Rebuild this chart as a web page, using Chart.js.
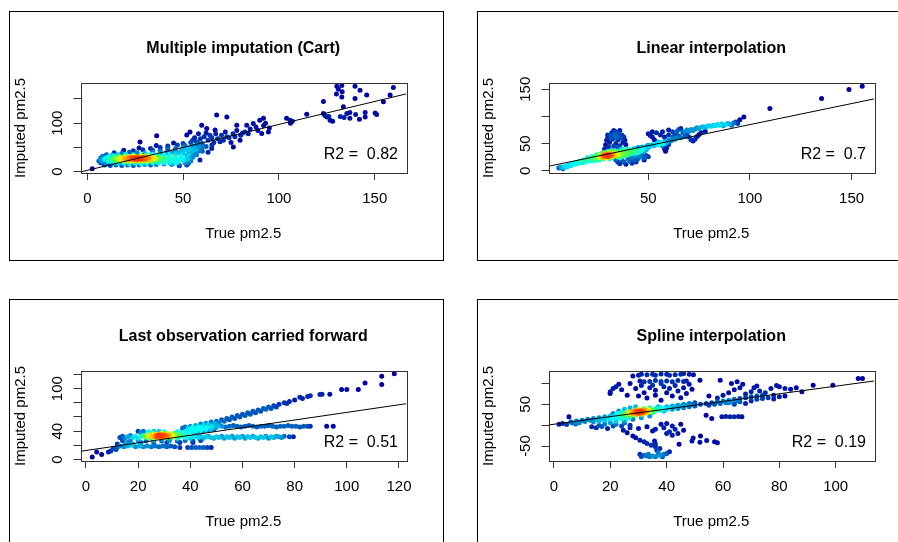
<!DOCTYPE html>
<html>
<head>
<meta charset="utf-8">
<script src="https://cdn.jsdelivr.net/npm/chart.js@4.4.1/dist/chart.umd.min.js"></script>
<style>
  body { margin: 0; background: #fff; }
  #wrap { position: relative; width: 898px; height: 542px; overflow: hidden; }
  #wrap canvas { position: absolute; left: 0; top: 0; }
  .frame { position: absolute; border: 1px solid #000; }
</style>
</head>
<body>
<div id="wrap">
  <div class="frame" style="left:9px;top:11px;width:433px;height:248px"></div>
  <div class="frame" style="left:477px;top:11px;width:440px;height:248px"></div>
  <div class="frame" style="left:9px;top:299px;width:433px;height:260px"></div>
  <div class="frame" style="left:477px;top:299px;width:440px;height:260px"></div>
  <canvas id="c0" width="898" height="542"></canvas>
  <canvas id="c1" width="898" height="542"></canvas>
  <canvas id="c2" width="898" height="542"></canvas>
  <canvas id="c3" width="898" height="542"></canvas>
</div>
<script>
// ---- data: [true pm2.5, imputed pm2.5] ----
const cartPoints = [
  [9,14],[12,13],[15,14],[18,13],[21,14],[24,13],[27,14],[30,15],[33,14],[36,15],[40,16],[44,15],[48,13],
  [7,18],[10,17],[13,18],[16,17],[19,18],[22,17],[25,18],[28,17],[31,18],[34,19],[37,18],[40,19],[43,18],[47,19],[51,18],
  [6,22],[8,21],[11,22],[13,23],[15,21],[17,22],[19,23],[21,21],[23,22],[25,23],[27,21],[29,22],[31,23],[33,22],[35,21],[38,22],[41,23],[44,22],[47,21],[50,23],[53,22],
  [7,25],[9,26],[12,25],[14,26],[16,25],[18,26],[20,25],[22,26],[24,25],[26,26],[28,25],[30,26],[32,25],[34,26],[36,25],[39,26],[42,25],[45,26],[48,25],[52,26],
  [7,29],[10,28],[12,29],[15,28],[17,29],[19,28],[21,29],[23,28],[25,29],[27,28],[29,29],[31,28],[33,29],[35,28],[37,29],[40,28],[43,29],[46,28],[49,29],[53,28],
  [8,32],[11,31],[14,32],[17,31],[20,32],[22,31],[24,32],[26,31],[28,32],[30,31],[32,32],[34,31],[37,32],[40,31],[43,32],[46,31],[49,32],[52,31],[55,32],
  [10,35],[13,34],[16,35],[20,36],[24,35],[28,34],[31,35],[34,36],[37,35],[40,34],[43,35],[46,36],[49,35],[52,34],[56,36],
  [14,39],[18,38],[22,40],[26,39],[30,38],[34,40],[38,39],[41,38],[44,40],[47,39],[50,38],[53,40],[57,39],
  [19,44],[24,43],[29,45],[34,44],[38,43],[42,45],[46,44],[49,43],[52,45],[55,44],[59,43],
  [27,49],[33,48],[38,50],[42,49],[46,48],[50,50],[53,49],[56,48],[60,50],
  [36,54],[42,53],[47,55],[51,54],[55,53],[59,55],[45,59],[50,58],[54,60],[58,59],
  [18,24],[20,27],[22,24],[24,27],[26,24],[28,27],[30,24],[32,27],[19,30],[23,30],[27,30],[31,30],
  [21,23.5],[25,26.5],[29,28.5],[33,25.5],[20,25.5],[24,29.5],[28,23.5],[32,29.5],[22,28],[26,28],[30,28],[34,28],
  [2.6,6],[44.9,17],[51.9,14],[52.7,17],[48,12],[46,20],[50,25],[54,22],[58.8,24],[55,30],[57,35],[54,40],[60,42],[63,40],
  [56,45],[53,48],[58,50],[50,45],[62,52],[65,55],[57.1,55],[64.9,48],[60,58],[66,60],[69.3,62],[55,65],[57,62],[59,68],
  [63,65],[56,70],[61,72],[64,75],[65,70],[68,68],[71,65],[74,70],[72.8,72],[75,60],[79.7,65],[76.2,51],[27.5,61],[36.2,74],
  [51.9,75.5],[53.6,82],[58,78],[62,80],[66.7,86],[62.3,89],[59.7,96],[67,78],[70,75],[72,82],[76,78],[77,72],[78,85],[80,75],
  [81,80],[82.3,82],[84,78],[85,88],[88,92],[89,85],[91,79],[94.5,82],[78,96],[83.2,96],[86.6,99.6],[90,106],[91.9,110],[92,95],
  [93,100],[95,90],[67.5,116.7],[72.8,113],[104,110],[105.8,106],[106,100],[107,104],[114.5,118.7],[123.2,145],[123.2,120],
  [124,116],[125,113],[126,114],[126.7,106],[128,104],[130.2,176],[131,170],[133,165],[130,160],[132.8,178],[132.8,154],
  [133.6,134],[135.4,120],[132,114],[134,112],[137,122],[140,118],[145,113],[137,110],[142,108],[145,122],[139.7,176],
  [142.3,168],[145.8,158],[139.7,151],[150.2,121],[151,118],[154.5,144],[158,158],[159.7,173.6]
];
const linearPoints = [
  [6,5],[7,7],[8,6],[9,8],[10,9],[11,11],[12,10],[13,13],[14,12],[15,15],[16,14],[17,17],[18,18],[19,19],[20,21],[21,22],[22,23],
  [8,4],[10,7],[12,12],[14,15],[16,17],[18,20],[20,24],[22,26],
  [18,15],[20,17],[22,18],[23,21],[23,26],[24,24],[24,28],[25,22],[25,30],[26,25],[26,29],[27,23],[27,32],[24,19],[26,20],
  [27,27],[28,25],[28,29],[28,33],[29,27],[29,31],[29,24],[30,28],[30,32],[30,35],[31,26],[31,30],[31,34],[32,28],[32,32],
  [32,24],[33,30],[33,27],[33,35],[28,22],[30,25],[31,22],[29,34],[32,36],[28,27],[29,29],[30,30],[31,28],[30,27],
  [34,29],[34,33],[35,31],[35,36],[36,28],[36,34],[37,32],[37,38],[38,30],[38,35],[39,33],[39,38],[40,31],[40,36],[35,26],[37,27],[39,28],
  [41,34],[41,39],[42,37],[43,35],[43,41],[44,38],[45,36],[45,43],[46,40],[47,38],[47,44],[48,41],[49,39],[49,45],[50,43],[50,47],
  [42,32],[44,33],[46,35],[48,36],
  [51,45],[52,48],[53,46],[54,50],[55,48],[56,52],[57,50],[58,54],[59,52],[60,56],[62,57],[64,60],[66,61],[68,63],
  [28.5,40],[29,48],[29.5,56],[30,60],[30.5,44],[31,52],[31.5,64],[32,70],[32.5,58],[33,74],[33.5,66],[34,72],[34,50],[34.5,62],
  [35,56],[35.5,68],[36,46],[36.5,60],[37,66],[37.5,52],[38,62],[38.5,56],[39,48],[39.5,40],[32,38],[35,42],[37,40],[30,66],[33,45],[36,74],
  [34,20],[35,16],[36,13],[37,20],[38,16],[39,12],[40,22],[41,18],[42,14],[42,25],[43,20],[44,16],[44,28],[45,22],[46,26],
  [47,30],[48,24],[48,20],[49,28],[50,26],[36,24],[38,27],[40,30],
  [50,68],[51,65],[52,62],[53,57],[55,53],[56,50],[57,46],[58,40],[58.5,36],[59,42],[60,48],[61,55],[62,62],[63,68],[64,72],
  [65,76],[66,78],[54,70],[56,66],[58,62],[60,66],[62,72],[57,72],[63,58],[65,64],[67,70],[52,72],[60,75],
  [68,72],[69,75],[70,73],[71,76],[72,74],[73,77],[74,79],[75,78],[76,80],[77,81],[78,80],[79,82],[80,83],[81,82],[82,84],
  [83,83],[84,85],[85,84],[86,86],[87,83],[88,85],[89,87],[90,86],[91,84],[92,88],[93,90],[94,87],[95,94],[97,99],
  [70,62],[71,57],[72,55],[73,58],[74,63],[75,67],[76,70],[69,67],[78,73],
  [109.8,114.5],[135.2,133],[148.7,149.5],[155.2,155.6]
];
const locfPoints = [
  [13,31],[14,33],[15,30],[16,32],[17,34],[18,31],[19,33],[20,30],[21,32],[22,34],[23,31],[24,33],[25,30],[26,32],[27,34],
  [28,31],[29,33],[30,30],[31,32],[32,34],[33,31],[34,33],[35,30],[36,32],[37,34],[38,31],[39,33],[40,30],[41,32],[42,34],
  [43,31],[44,33],[45,30],[46,32],[47,33],[48,31],[49,30],[50,32],
  [24,35],[26,36],[28,35],[30,36],[32,35],[25,34],[27,33],[29,35],[31,34],[33,36],[26,31],[28,33],[30,32],[27,36],[29,37],
  [31,37],[23,33],[33,33],[35,35],[27,32],[29,31],[28,34],[30,34],
  [34,37],[36,38],[38,39],[40,40],[42,41],[44,42],[46,43],[48,44],[37,36],[39,37],[41,38],[43,39],[45,40],[47,41],[49,42],
  [35,39],[40,43],[44,45],[48,46],[50,45],
  [14,27],[17,26],[20,27],[23,26],[26,27],[29,26],[32,27],[35,26],[38,27],[41,26],[44,27],[16,24],[21,24],[26,24],[31,24],[36,24],[41,24],
  [20,40],[22,40],[24,39],[26,40],[28,40],[30,39],[21,38],[25,38],
  [13,19],[14.5,18],[16,19],[17.5,20],[19,18],[20.5,19],[22,18],[23.5,19],[25,18],[26.5,19],[28,18],[29.5,19],[31,18],[32.5,19],
  [34,18],[36,17],[39,17],[40.5,17],[42,17],[43.5,17],[45,17],[46.5,17],[48,17],[12,22],[15,22],[18,22],[21,21],
  [2.4,3.7],[4.1,10.7],[6,7],[8.6,10.7],[9.5,12],[10.5,15.5],[11.5,14],[12,17],
  [51,31],[52,33],[53,30],[54,32],[55,31],[56,33],[57,30],[58,32],[59,31],[60,33],[61,30],[62,32],[63,31],[64,33],[65,31],
  [66,30],[67,32],[68,31],[69,33],[70,30],[71,32],[72,31],[73,33],[74,32],[75,31],[76,33],[78,32],[79.5,32],
  [50,48],[52,47],[53.5,46],[55,47],[56.5,48],[58,47],[59.5,46],[61,47],[62.5,48],[64,47],[65.5,46],[67,47],[68.5,47],[70,48],
  [71.5,47],[73,46],[74.5,47],[76,47],[77.5,48],[79,47],[80.5,47],[82,46],[83.5,47],[85,47],[86,47],[92.3,47],[94.8,47],
  [37,44],[38,46],[39,43],[40,47],[41,45],[42,48],[43,46],[44,50],[45,48],[46,51],[47,49],[48,53],[49,51],[50,54],[51,52],
  [52,56],[53,54],[54,58],[55,56],[56,60],[57,58],[58,62],[59,60],[60,64],[61,62],[62,66],[63,64],[64,68],[65,66],[66,70],
  [67,68],[68,72],[69,71],[70,74],[71,72],[72,76],[73,74],[74,78],[76,80],[77,79],[78,82],[80,84],[82,88],[83,86],[85,89],
  [86,90],[89.7,91.8],[90.5,92],[93.5,92],[98,98.9],[100,98.9],[104.4,98.9],[107,108],[113.4,106],[113.4,117.6],[118.2,121]
];
const splinePoints = [
  [6,8],[8,10],[10,12],[9,6],[11,9],[12,14],[13,11],[14,16],[14,8],[15,13],[16,18],[16,10],[17,15],[18,20],[18,12],[19,17],
  [20,22],[20,14],[21,19],[22,24],[22,12],[23,18],[23,28],[24,22],[24,30],[24,15],[25,26],[25,19],[26,32],[26,24],[26,16],
  [27,28],[27,20],[28,34],[28,26],[28,30],[29,32],[29,23],[29,36],[30,28],[30,34],[30,38],[31,30],[31,26],[31,36],[32,33],
  [32,40],[32,28],[33,35],[33,30],[34,38],[34,32],[34,42],[35,36],[35,30],[36,40],[36,34],[37,38],[37,44],[38,36],[38,42],
  [39,40],[39,34],[40,44],[40,38],[41,42],[42,46],[42,38],[43,44],[44,48],[44,40],[45,46],[46,50],[46,42],[47,48],[48,52],
  [48,44],[49,50],[50,54],[50,46],[21,28],[23,34],[25,38],[27,42],[29,44],[22,8],[25,10],[28,14],[31,18],[34,22],
  [28,32],[29,29],[30,31],[30,33],[31,33],[31,29],[32,31],[32,35],[33,33],[27,31],[29,34],[28,28],[30,30],[31,32],[26,29],[33,37],
  [52,50],[54,52],[55,48],[56,54],[58,56],[59,52],[60,58],[62,60],[63,56],[64,62],[66,64],[68,66],[70,68],[72,70],[74,72],
  [57,50],[61,54],[65,58],
  [1.8,2],[3,4],[4.5,1.7],[5.3,20],[6.5,5.5],[7.7,3],[8,7],
  [28,118],[30,120],[31,122],[33,121],[35,122],[36,120],[38,123],[40,122],[41,120],[43,121],[45,122],[46,124],[48,122],[49.5,121],
  [30.5,106],[32,104],[34,105],[36,107],[38,105],[40,106],[42,104],[44,107],[46,105],[47,106],
  [19.9,76],[21,88],[22,92],[23,98],[20,80],[24,85],[27,100],[26,72],[29,88],[31,95],[32,78],[34,90],[35,96],[36,84],[38,100],
  [39,92],[40,78],[41,88],[43,95],[44,82],[46,90],[47,76],[48,98],[49,86],[30,70],[36,72],[42,70],[33,65],[45,66],[38,60],
  [51.8,108],[59,108],[63,100],[65,104],[67,98],[70,80],[71,90],[72,94],[77,88],[79,95],[80,92],[92,96],[99,96],[108,112],[109.5,112],
  [55,70],[58,65],[60,72],[62,78],[64,85],[66,90],[68,75],[73,82],[75,78],[78,72],[82,88],[84,86],[86,90],[88,80],
  [62,54],[66,56],[70,58],[72,62],[74,64],[76,66],[78,63],[80,68],[82,70],[64,50],[68,52],
  [59.6,20],[61,21],[62.5,20],[64,20],[65.5,21],[66.7,20],[54,24],[56,16],
  [13.4,-4],[15,-6],[17,-3],[19,-8],[21,-2],[16,-1],[24.6,-12],[26,-18],[28,-26],[29,-30],[30.5,-36],[32,-40],[33,-44],
  [34.5,-48],[36,-52],[37.6,-56],[35.7,-38],[36,-45],[36.5,-60],[37,-66],[37.5,-72],[30.5,-70],[32,-72],[33,-74],[34,-76],
  [35,-74],[36,-76],[38,-72],[39,-70],[40,-68],[41,-64],[31,-75],[33.5,-70],[38.5,-76],
  [24,-2],[27,-6],[30,-8],[33,-4],[36,-10],[39,-6],[42,-2],[40,4],[43,-10],[45,2],[38,2],[35,-14],[41,-16],[44,-20],[42,-24],
  [40,-20],[46,-12],[44.4,-46],[49.4,-31],[51.8,-41],[54.2,-37],[57,-40],[58,-42],[49,-38],[52,-26],
  [22,2],[25,5],[20,6],[27,0],[18,3]
];

const panelTitles = ['Multiple imputation (Cart)', 'Linear interpolation', 'Last observation carried forward', 'Spline interpolation'];
const r2Values = ['0.82', '0.7', '0.51', '0.19'];
const fitIntercepts = [2.8, 7.6, 12.7, 2.3];
const fitSlopes = [0.947, 0.774, 0.538, 0.913];
const xLimits = [[-3.55, 166.3], [0.94, 161], [-2.1, 122.7], [-1.95, 113.6]];
const yLimits = [[-2.7, 182.9], [-4, 161.5], [-2.1, 124.9], [-85.9, 130]];
const xTicks = [[0, 50, 100, 150], [50, 100, 150], [0, 20, 40, 60, 80, 100, 120], [0, 20, 40, 60, 80, 100]];
const yTicks = [[0, 50, 100, 150], [0, 50, 100, 150], [0, 20, 40, 60, 80, 100, 120], [-50, 0, 50, 100]];
const yTickLabels = [[0, 100], [0, 50, 150], [0, 40, 100], [-50, 50]];
const allPoints = [cartPoints, linearPoints, locfPoints, splinePoints];

// ---- layout: plot boxes in page pixels ----
const plotBoxes = [
  { left: 80.5, top: 83, right: 406, bottom: 173 },
  { left: 548.5, top: 83, right: 874, bottom: 173 },
  { left: 80.5, top: 371, right: 406, bottom: 461 },
  { left: 548.5, top: 371, right: 874, bottom: 461 }
];
const FONT = '"Liberation Sans", Arial, Helvetica, sans-serif';
const densityRamp = ['#000099', '#00FEFF', '#45FE4F', '#FCFF00', '#FF9400', '#FF3100'];

function rampColor(t) {
  const stops = densityRamp.map(h => [1, 3, 5].map(i => parseInt(h.slice(i, i + 2), 16)));
  const s = Math.max(0, Math.min(t, 1)) * (stops.length - 1);
  const i = Math.min(Math.floor(s), stops.length - 2);
  const f = s - i;
  const c = stops[i].map((v, k) => Math.round(v + (stops[i + 1][k] - v) * f));
  return 'rgb(' + c.join(',') + ')';
}

// colour each point by local density, like densCols()
function densityOrdered(pts) {
  const q = (arr, p) => { const s = [...arr].sort((a, b) => a - b); return s[Math.floor(p * (s.length - 1))]; };
  const xs = pts.map(p => p[0]), ys = pts.map(p => p[1]);
  const bx = (q(xs, 0.95) - q(xs, 0.05)) / 25, by = (q(ys, 0.95) - q(ys, 0.05)) / 25;
  const dens = pts.map(([x, y]) => pts.reduce((s, [u, v]) => s + Math.exp(-0.5 * (((x - u) / bx) ** 2 + ((y - v) / by) ** 2)), 0) - 1);
  const max = Math.max(...dens);
  const order = pts.map((p, i) => i).sort((a, b) => dens[a] - dens[b]);
  return {
    data: order.map(i => ({ x: pts[i][0], y: pts[i][1] })),
    colors: order.map(i => rampColor(Math.pow(dens[i] / max, 1.6)))
  };
}

const rDecor = {
  id: 'rDecor',
  afterDraw(chart, args, opts) {
    const { ctx, chartArea: a } = chart;
    const yScale = chart.scales.y;
    ctx.save();
    ctx.strokeStyle = '#333';
    ctx.lineWidth = 1;
    ctx.strokeRect(Math.round(a.left) + 0.5, Math.round(a.top) + 0.5, Math.round(a.right - a.left), Math.round(a.bottom - a.top));
    ctx.fillStyle = '#000';
    ctx.textBaseline = 'middle';
    ctx.textAlign = 'center';
    ctx.font = 'bold 16px ' + FONT;
    ctx.fillText(opts.title, (a.left + a.right) / 2, a.top - 34);
    ctx.font = '16px ' + FONT;
    ctx.textAlign = 'right';
    ctx.fillText('R2 =  ' + opts.r2, a.right - 8, a.bottom - 18);
    ctx.font = '15px ' + FONT;
    ctx.textAlign = 'center';
    opts.yLabels.forEach(v => {
      ctx.save();
      ctx.translate(a.left - 23, yScale.getPixelForValue(v));
      ctx.rotate(-Math.PI / 2);
      ctx.fillText(String(v), 0, 0);
      ctx.restore();
    });
    ctx.restore();
  }
};

plotBoxes.forEach((box, i) => {
  const dens = densityOrdered(allPoints[i]);
  const [x0, x1] = xLimits[i];
  const fitLine = [x0, x1].map(x => ({ x: x, y: fitIntercepts[i] + fitSlopes[i] * x }));
  new Chart(document.getElementById('c' + i), {
    type: 'scatter',
    data: {
      datasets: [
        { type: 'line', data: fitLine, borderColor: '#000', borderWidth: 1, pointRadius: 0, fill: false, order: 0 },
        { data: dens.data, backgroundColor: dens.colors, pointRadius: 2.5, pointBorderWidth: 0, order: 1 }
      ]
    },
    options: {
      responsive: false,
      animation: false,
      devicePixelRatio: 1,
      events: [],
      layout: { padding: { left: box.left - 69, top: box.top, right: 898 - box.right, bottom: 542 - box.bottom - 70 } },
      plugins: {
        legend: { display: false },
        tooltip: { enabled: false },
        rDecor: { title: panelTitles[i], r2: r2Values[i], yLabels: yTickLabels[i] }
      },
      scales: {
        x: {
          type: 'linear', min: x0, max: x1,
          afterBuildTicks: s => { s.ticks = xTicks[i].map(v => ({ value: v })); },
          afterFit: s => { s.height = 70; },
          grid: { drawOnChartArea: false, drawTicks: true, tickLength: 7, color: '#333' },
          border: { display: false },
          ticks: { autoSkip: false, maxRotation: 0, padding: 10, color: '#000', font: { family: FONT, size: 15 } },
          title: { display: true, text: 'True pm2.5', color: '#000', padding: 0, font: { family: FONT, size: 15 } }
        },
        y: {
          type: 'linear', min: yLimits[i][0], max: yLimits[i][1],
          afterBuildTicks: s => { s.ticks = yTicks[i].map(v => ({ value: v })); },
          afterFit: s => { s.width = 69; },
          grid: { drawOnChartArea: false, drawTicks: true, tickLength: 7, color: '#333' },
          border: { display: false },
          ticks: { display: false },
          title: { display: true, text: 'Imputed pm2.5', color: '#000', padding: 0, font: { family: FONT, size: 15 } }
        }
      }
    },
    plugins: [rDecor]
  });
});
</script>
</body>
</html>
